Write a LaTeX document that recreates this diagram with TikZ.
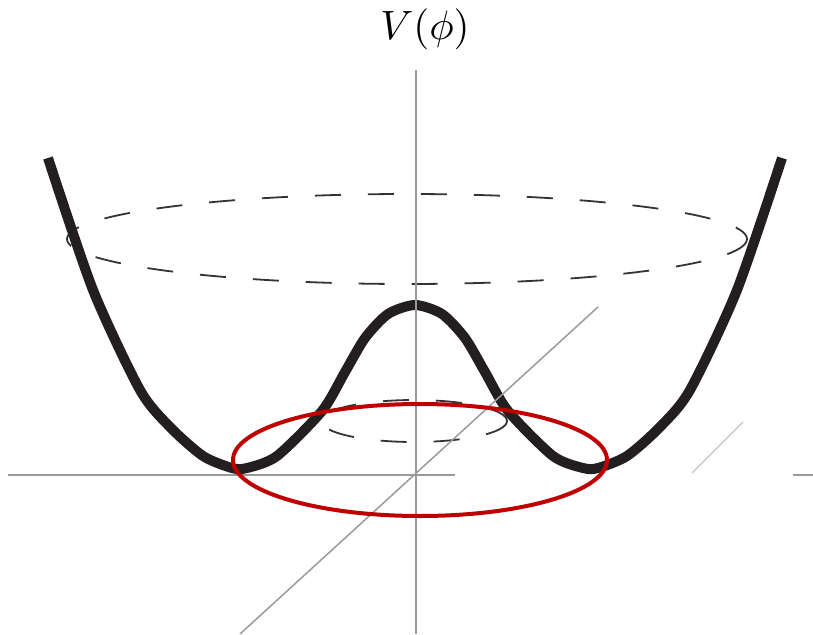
\documentclass[tikz,border=0pt]{standalone}
\usetikzlibrary{calc}
\definecolor{curveblack}{HTML}{231F20}
\definecolor{axisgray}{HTML}{9A9A9A}
\definecolor{lightgray2}{HTML}{CFCFCF}
\definecolor{dashgray}{HTML}{333333}
\definecolor{ringred}{HTML}{C00000}
\tikzset{
  axisline/.style={draw=axisgray, line width=1.5pt},
  faintline/.style={draw=lightgray2, line width=1.5pt},
  dashring/.style={draw=dashgray, line width=1.8pt, dash pattern=on 26pt off 27pt},
  potential/.style={draw=curveblack, line width=10pt, line join=round},
  redring/.style={draw=ringred, line width=4pt},
}
\begin{document}
\begin{tikzpicture}[x=1pt,y=-1pt]
\useasboundingbox (0,0) rectangle (813,634);
% dashed rings
\draw[dashring] (407,239) ellipse [x radius=340, y radius=45];
\draw[dashring] (414,421) ellipse [x radius=93, y radius=21];
% potential curve
\draw[potential] plot[smooth, tension=0.45] coordinates {
 (48,158) (93,290) (140,390) (170,427) (203,456)
 (232,468) (247,468) (277,456) (322,411) (345,372) (365,338) (388,314)
 (415,305) (442,314) (465,338) (485,372) (508,411) (553,456)
 (583,468) (598,468) (627,456) (660,427) (690,390) (737,290) (782,158)};
% axes
\coordinate (hl) at (8,475);
\coordinate (hr) at (455,475);
\coordinate (hl2) at (793,475);
\coordinate (hr2) at (813,475);
\coordinate (vt) at (416,70);
\coordinate (vb) at (416,634);
\coordinate (db) at (240,634);
\coordinate (dt) at (598,307);
\coordinate (fb) at (692,473);
\coordinate (ft) at (743,422);
\draw[axisline] (hl) -- (hr);
\draw[axisline] (hl2) -- (hr2);
\draw[axisline] (vt) -- (vb);
\draw[axisline] (db) -- (dt);
\draw[faintline] (fb) -- (ft);
% red ring
\draw[redring] (420,460) ellipse [x radius=187, y radius=56];
% label
\node[scale=4.1, inner sep=0pt] (label) at (425,29) {$V(\phi)$};
\end{tikzpicture}
\end{document}
